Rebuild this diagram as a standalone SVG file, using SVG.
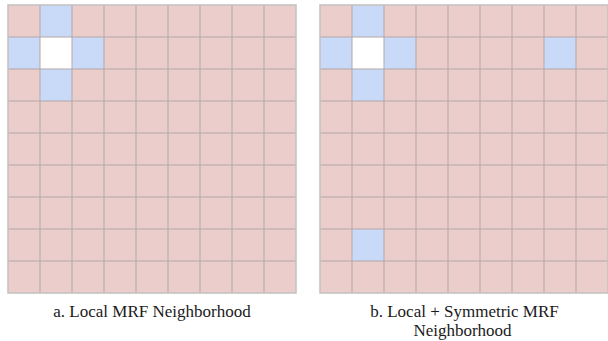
<svg xmlns="http://www.w3.org/2000/svg" width="608" height="341" viewBox="0 0 608 341">
<defs>
<style>
.bg{fill:#ebcdcc}
.nb{fill:#c9daf8}
.ct{fill:#ffffff}
.ln{stroke:#b2a7a7;stroke-width:1;fill:none}
.bd{stroke:#c4c0c0;stroke-width:1.5;fill:none}
.lb{font-family:'Liberation Serif','Times New Roman',serif;font-size:17px;fill:#1a1a1a;text-anchor:middle}
</style>
</defs>
<g id="gridA">
<rect class="bg" x="8" y="5" width="288" height="288"/>
<rect class="nb" x="40" y="5" width="32" height="32"/>
<rect class="nb" x="8" y="37" width="32" height="32"/>
<rect class="ct" x="40" y="37" width="32" height="32"/>
<rect class="nb" x="72" y="37" width="32" height="32"/>
<rect class="nb" x="40" y="69" width="32" height="32"/>
<path class="ln" d="M40 5V293M72 5V293M104 5V293M136 5V293M168 5V293M200 5V293M232 5V293M264 5V293M8 37H296M8 69H296M8 101H296M8 133H296M8 165H296M8 197H296M8 229H296M8 261H296"/>
<rect class="bd" x="8" y="5" width="288" height="288"/>
</g>
<g id="gridB">
<rect class="bg" x="320" y="5" width="288" height="288"/>
<rect class="nb" x="352" y="5" width="32" height="32"/>
<rect class="nb" x="320" y="37" width="32" height="32"/>
<rect class="ct" x="352" y="37" width="32" height="32"/>
<rect class="nb" x="384" y="37" width="32" height="32"/>
<rect class="nb" x="352" y="69" width="32" height="32"/>
<rect class="nb" x="544" y="37" width="32" height="32"/>
<rect class="nb" x="352" y="229" width="32" height="32"/>
<path class="ln" d="M352 5V293M384 5V293M416 5V293M448 5V293M480 5V293M512 5V293M544 5V293M576 5V293M320 37H608M320 69H608M320 101H608M320 133H608M320 165H608M320 197H608M320 229H608M320 261H608"/>
<rect class="bd" x="320" y="5" width="288" height="288"/>
</g>
<g id="labelA">
<text class="lb" x="152" y="317">a. Local MRF Neighborhood</text>
</g>
<g id="labelB">
<text class="lb" x="464.5" y="317">b. Local + Symmetric MRF</text>
<text class="lb" x="462.5" y="336">Neighborhood</text>
</g>
</svg>
